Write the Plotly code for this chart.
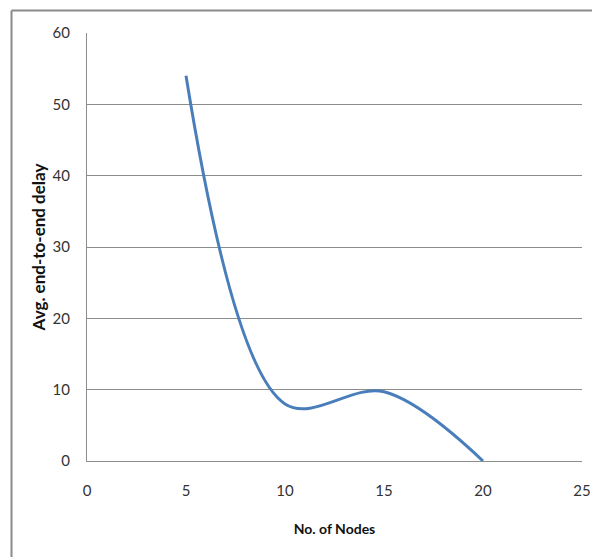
import plotly.graph_objects as go

# Average end-to-end delay against number of nodes
nodes = [5, 10, 15, 20]
delay = [54, 8, 9.7, 0]

x_ticks = [0, 5, 10, 15, 20, 25]
y_ticks = [0, 10, 20, 30, 40, 50, 60]

FONT = "Lato, Open Sans, sans-serif"
GRID = "#8c8c8c"
FRAME_X = (11.5 - 87) / 495    # outer frame, left edge (paper units)
FRAME_Y = (461 - 10.5) / 428   # outer frame, top edge (paper units)

fig = go.Figure()
fig.add_trace(go.Scatter(
    x=nodes, y=delay, mode="lines",
    line=dict(color="#4a7ebb", width=3, shape="spline", smoothing=1.0),
    showlegend=False, hoverinfo="x+y",
))

fig.update_layout(
    width=592, height=557,
    margin=dict(l=87, r=10, t=33, b=96),
    paper_bgcolor="white", plot_bgcolor="white",
    font=dict(family=FONT, color="#333333", size=15),
    xaxis=dict(
        range=[0, 25], tickvals=x_ticks, ticktext=[str(v) for v in x_ticks],
        showgrid=False, zeroline=False,
        showline=True, linecolor=GRID, linewidth=1,
        ticks="", ticklen=0, ticklabelstandoff=16,
        tickfont=dict(size=15, family=FONT, color="#333333"),
        title=dict(text="<b>No. of Nodes</b>", font=dict(size=14, family=FONT, color="#111111"),
                   standoff=26),
        automargin=False,
    ),
    yaxis=dict(
        range=[0, 60], tickvals=y_ticks, ticktext=[str(v) for v in y_ticks],
        showgrid=True, gridcolor=GRID, gridwidth=1, zeroline=False,
        showline=True, linecolor=GRID, linewidth=1,
        ticks="", ticklen=0, ticklabelstandoff=13,
        tickfont=dict(size=15, family=FONT, color="#333333"),
        title=dict(text="<b>Avg. end-to-end delay</b>", font=dict(size=17, family=FONT, color="#111111"),
                   standoff=2),
        automargin=False,
    ),
    shapes=[
        # outer chart frame (top and left edges)
        dict(type="line", xref="paper", yref="paper",
             x0=FRAME_X, x1=1.03, y0=FRAME_Y, y1=FRAME_Y,
             line=dict(color="#8a8a8a", width=2)),
        dict(type="line", xref="paper", yref="paper",
             x0=FRAME_X, x1=FRAME_X, y0=FRAME_Y, y1=-0.3,
             line=dict(color="#8a8a8a", width=2)),
    ],
)

fig.write_html("out.html")
